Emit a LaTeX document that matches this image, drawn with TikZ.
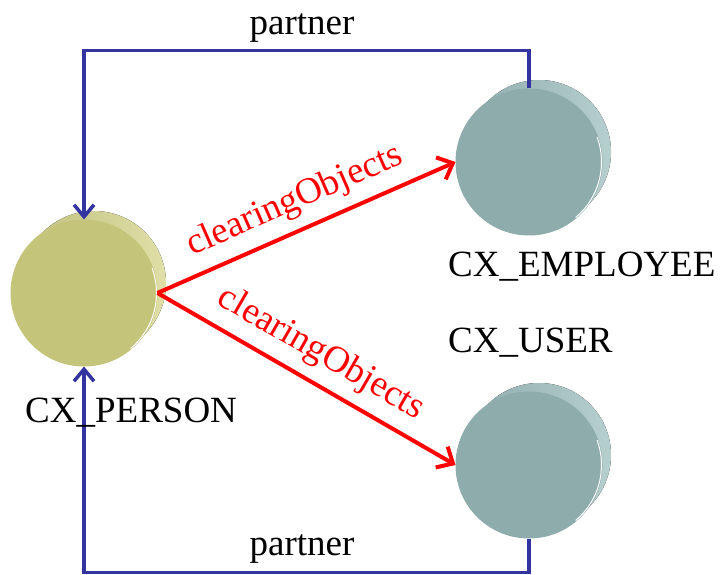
\documentclass[tikz,border=0pt]{standalone}
\usepackage{fontspec}
\setmainfont{Liberation Serif}
\usetikzlibrary{arrows.meta}

\definecolor{linkblue}{RGB}{52,52,160}
\definecolor{personface}{RGB}{196,196,122}
\definecolor{personside}{RGB}{214,214,140}
\definecolor{userface}{RGB}{142,172,172}
\definecolor{userside}{RGB}{160,192,192}

\tikzset{
  disc/.style={circle, minimum size=146pt, inner sep=0pt},
  partner/.style={linkblue, line width=3.5pt, -{Straight Barb[length=12pt,width=20pt]}},
  clearing/.style={red, line width=4pt, -{Straight Barb[length=13pt,width=24pt]}},
  lbl/.style={font=\fontsize{37}{40}\selectfont, inner sep=0pt},
}

% #1 name, #2 centre, #3 face colour, #4 side colour
\newcommand{\drawdisc}[4]{%
  \begin{scope}[shift={(#2)}]
    \fill[left color=#4!88!black, right color=#4!75!white]
      (135:72) -- ++(10,10) arc[start angle=135,end angle=-45,radius=72]
      -- ++(-10,-10) arc[start angle=-45,end angle=-225,radius=72] -- cycle;
    \node[disc, fill=#3, draw=#3, line width=1pt] (#1) at (0,0) {};
    \draw[white, line width=1pt] (20:72.5) arc[start angle=20,end angle=-50,radius=72.5];
  \end{scope}%
}

\begin{document}
\begin{tikzpicture}[x=1pt,y=1pt]
\useasboundingbox (0,0) rectangle (726,574);

\drawdisc{person}{84,281}{personface}{personside}
\drawdisc{emp}{529,412}{userface}{userside}
\drawdisc{user}{529,109}{userface}{userside}

% partner links
\draw[partner] (emp.north) -- ++(0,38) -| (person.north);
\draw[partner] (user.south) -- ++(0,-34) -| (person.south);
\node[lbl, anchor=base] (toplbl) at (302,539) {partner};
\node[lbl, anchor=base] (botlbl) at (302,19) {partner};

% clearing objects
\draw[clearing] (person.east) -- node[lbl, sloped, above=10pt, midway] {clearingObjects} (emp.west);
\draw[clearing] (person.east) -- node[lbl, sloped, above=10pt, midway] {clearingObjects} (user.west);

\node[lbl, anchor=base west] (personlbl) at (25,152) {CX\_PERSON};
\node[lbl, anchor=base west] (emplbl) at (448,297) {CX\_EMPLOYEE};
\node[lbl, anchor=base west] (userlbl) at (448,222) {CX\_USER};
\end{tikzpicture}
\end{document}
